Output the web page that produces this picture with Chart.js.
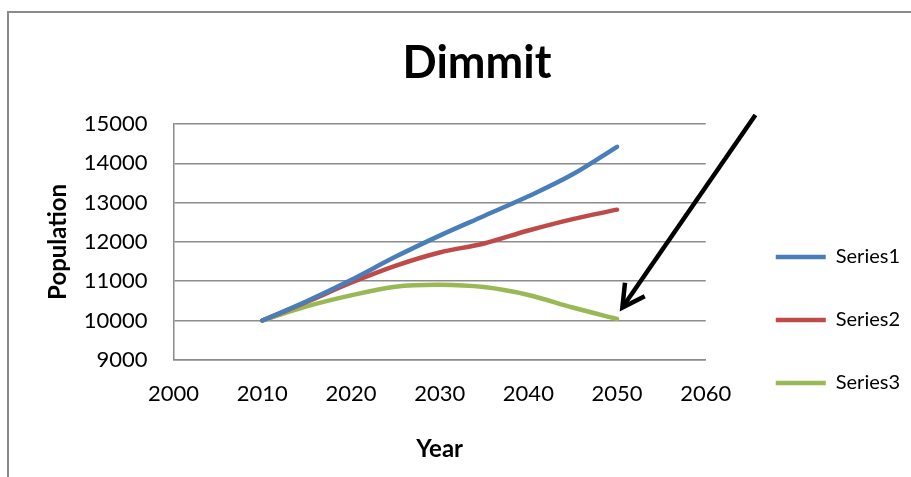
<!DOCTYPE html>
<html>
<head>
<meta charset="utf-8">
<script src="https://cdn.jsdelivr.net/npm/chart.js@4"></script>
<style>
  html, body { margin: 0; padding: 0; background: #fff; }
  #wrap { position: relative; width: 911px; height: 477px; overflow: hidden; }
  #frame { position: absolute; left: 7px; top: 11px; width: 1000px; height: 1000px;
           border-left: 2px solid #8a8a8a; border-top: 2px solid #8a8a8a; pointer-events: none; }
</style>
</head>
<body>
<div id="wrap">
  <canvas id="chart"></canvas>
  <div id="frame"></div>
</div>
<script>
// Dimmit population projections
const years = [2010, 2015, 2020, 2025, 2030, 2035, 2040, 2045, 2050];
const series1 = [10000, 10490, 11030, 11620, 12160, 12660, 13160, 13720, 14420];
const series2 = [10000, 10470, 10960, 11390, 11730, 11960, 12290, 12580, 12820];
const series3 = [10000, 10360, 10640, 10860, 10910, 10850, 10650, 10330, 10040];
const seriesNames = ['Series1', 'Series2', 'Series3'];
const seriesColors = ['#4a7ebb', '#be4b48', '#98b954'];

// annotation arrow, in data units (start -> tip)
const arrowFrom = [2065.6, 15230];
const arrowTo = [2050.6, 10330];

const font = 'Lato, "Open Sans", sans-serif';

const toPoints = (vals) => years.map((y, i) => ({ x: y, y: vals[i] }));

const arrowPlugin = {
  id: 'arrow',
  afterDatasetsDraw(chart) {
    const { ctx, scales } = chart;
    const x1 = scales.x.getPixelForValue(arrowFrom[0]);
    const y1 = scales.y.getPixelForValue(arrowFrom[1]);
    const x2 = scales.x.getPixelForValue(arrowTo[0]);
    const y2 = scales.y.getPixelForValue(arrowTo[1]);
    const ang = Math.atan2(y1 - y2, x1 - x2);
    const len = 25, spread = 0.5;
    ctx.save();
    ctx.strokeStyle = '#000';
    ctx.lineWidth = 4.5;
    ctx.beginPath();
    ctx.moveTo(x1, y1);
    ctx.lineTo(x2, y2);
    ctx.stroke();
    ctx.beginPath();
    ctx.moveTo(x2 + Math.cos(ang - spread) * len, y2 + Math.sin(ang - spread) * len);
    ctx.lineTo(x2, y2);
    ctx.lineTo(x2 + Math.cos(ang + spread) * len, y2 + Math.sin(ang + spread) * len);
    ctx.stroke();
    ctx.restore();
  }
};

const gridColor = '#8c8c8c';

new Chart(document.getElementById('chart').getContext('2d'), {
  type: 'line',
  data: {
    datasets: [series1, series2, series3].map((vals, i) => ({
      label: seriesNames[i],
      data: toPoints(vals),
      borderColor: seriesColors[i],
      backgroundColor: seriesColors[i],
      borderWidth: 4.5,
      borderCapStyle: 'round',
      borderJoinStyle: 'round',
      pointRadius: 0,
      tension: 0.35,
      fill: false
    }))
  },
  options: {
    responsive: true,
    maintainAspectRatio: false,
    animation: false,
    layout: { padding: { left: 44, right: 1, top: 0, bottom: 0 } },
    scales: {
      x: {
        type: 'linear',
        min: 2000,
        max: 2060,
        grid: { display: false, drawTicks: false },
        border: { display: true, color: gridColor, width: 1.5 },
        ticks: { stepSize: 10, padding: 21, color: '#000', font: { family: font, size: 22 }, callback: (v) => String(v) },
        title: { display: true, text: 'Year', color: '#000', font: { family: font, size: 24, weight: 'bold' }, padding: { top: 7, bottom: 13 } }
      },
      y: {
        min: 9000,
        max: 15000,
        grid: { color: gridColor, lineWidth: 1.5, drawTicks: true, tickLength: 26, tickColor: 'rgba(0,0,0,0)' },
        border: { display: true, color: gridColor, width: 1.5 },
        ticks: { stepSize: 1000, padding: 0, color: '#000', font: { family: font, size: 22 }, callback: (v) => String(v) },
        title: { display: true, text: 'Population', color: '#000', font: { family: font, size: 24, weight: 'bold' }, padding: { top: 0, bottom: 11 } }
      },
      gap: {
        type: 'linear',
        position: 'right',
        grid: { display: false },
        border: { display: false },
        ticks: { display: false },
        afterFit: (s) => { s.width = 27; }
      }
    },
    plugins: {
      title: {
        display: true,
        text: 'Dimmit',
        color: '#000',
        font: { family: font, size: 45, weight: 'bold' },
        padding: { top: 36, bottom: 34 }
      },
      legend: {
        position: 'right',
        align: 'start',
        maxWidth: 240,
        title: { display: true, text: '', font: { size: 10 }, padding: { top: 192, bottom: 0 } },
        labels: {
          usePointStyle: true,
          pointStyle: 'line',
          pointStyleWidth: 50,
          padding: 43,
          color: '#000',
          font: { family: font, size: 20 }
        }
      },
      tooltip: { enabled: false }
    }
  },
  plugins: [arrowPlugin]
});
</script>
</body>
</html>
